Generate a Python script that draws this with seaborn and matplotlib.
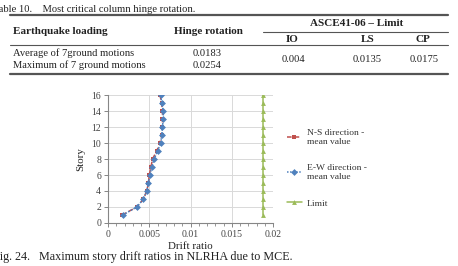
import matplotlib
matplotlib.use("Agg")
import matplotlib.pyplot as plt
from matplotlib.lines import Line2D
from matplotlib.ticker import MultipleLocator
import seaborn as sns

# table data
table_caption = "Table 10.    Most critical column hinge rotation."
row_names = ["Average of 7ground motions", "Maximum of 7 ground motions"]
hinge_rotation = ["0.0183", "0.0254"]
limit_names = ["IO", "LS", "CP"]
limit_values = ["0.004", "0.0135", "0.0175"]

# chart data
story = list(range(1, 17))
ns_drift = [0.0017, 0.0035, 0.0043, 0.0047, 0.0049, 0.0050, 0.0052, 0.0054,
            0.0059, 0.0063, 0.0065, 0.0066, 0.0066, 0.0066, 0.0065, 0.0063]
ew_drift = [0.0018, 0.0035, 0.0043, 0.0047, 0.0049, 0.0051, 0.0053, 0.0056,
            0.0060, 0.0064, 0.0065, 0.0066, 0.0067, 0.0067, 0.0065, 0.0064]
limit_drift = [0.01875] * 16
x_ticks = [0, 0.005, 0.01, 0.015, 0.02]
x_tick_labels = ["0", "0.005", "0.01", "0.015", "0.02"]
fig_caption = "Fig. 24.   Maximum story drift ratios in NLRHA due to MCE."

W, H = 458, 266
sns.set_style("white")
plt.rcParams["font.family"] = ["Liberation Serif", "DejaVu Serif"]

fig = plt.figure(figsize=(W / 100, H / 100), dpi=100)


def fx(px):
    return px / W


def fy(py):
    return 1 - py / H


def hline(x0, x1, y, lw):
    fig.add_artist(Line2D([fx(x0), fx(x1)], [fy(y), fy(y)], color="#555555", lw=lw))


txt = dict(fontsize=7.6, color="#222222")
bold = dict(fontsize=8.0, color="#222222", weight="bold")

# --- table ---
fig.text(fx(-7), fy(9), table_caption, va="center", ha="left", **txt)
hline(10, 448, 15, 1.6)
fig.text(fx(13), fy(32), "Earthquake loading", va="center", ha="left", **bold)
fig.text(fx(208), fy(32), "Hinge rotation", va="center", ha="center", **bold)
fig.text(fx(357), fy(24), "ASCE41-06 \u2013 Limit", va="center", ha="center", **bold)
hline(263, 448, 32, 0.8)
for name, xp in zip(limit_names, [292, 368, 423]):
    fig.text(fx(xp), fy(39), name, va="center", ha="center", **bold)
hline(10, 448, 45, 0.8)
for name, val, yp in zip(row_names, hinge_rotation, [53, 65]):
    fig.text(fx(13), fy(yp), name, va="center", ha="left", **txt)
    fig.text(fx(207), fy(yp), val, va="center", ha="center", **txt)
for val, xp in zip(limit_values, [293, 367, 424]):
    fig.text(fx(xp), fy(59), val, va="center", ha="center", **txt)
hline(10, 448, 74, 1.6)

# --- chart ---
ax = fig.add_axes([fx(108), fy(223), fx(273) - fx(108), fy(95) - fy(223)])
sns.lineplot(x=ns_drift, y=story, sort=False, estimator=None, ax=ax,
             color="#C0504D", linestyle=(0, (3, 2)), lw=1.1, marker="s",
             markersize=3.5, markeredgewidth=0, label="N-S direction -\nmean value")
sns.lineplot(x=ew_drift, y=story, sort=False, estimator=None, ax=ax,
             color="#4F81BD", linestyle=(0, (1, 1)), lw=1.1, marker="D",
             markersize=3.5, markeredgewidth=0, label="E-W direction -\nmean value")
sns.lineplot(x=limit_drift, y=story, sort=False, estimator=None, ax=ax,
             color="#9BBB59", lw=1.1, marker="^", markersize=3.5,
             markeredgewidth=0, label="Limit")

ax.set_xlim(0, 0.02)
ax.set_ylim(0, 16)
ax.set_xticks(x_ticks, x_tick_labels)
ax.xaxis.set_minor_locator(MultipleLocator(0.001))
ax.yaxis.set_major_locator(MultipleLocator(2))
ax.grid(True, which="major", color="#D9D9D9", lw=0.7)
for s in ["top", "right"]:
    ax.spines[s].set_visible(False)
for s in ["left", "bottom"]:
    ax.spines[s].set_color("#868686")
    ax.spines[s].set_linewidth(0.8)
ax.tick_params(which="major", direction="out", length=3, width=0.7, color="#868686",
               labelsize=7, labelcolor="#444444", pad=2, left=True, bottom=True)
ax.tick_params(which="minor", direction="out", length=2, width=0.6, color="#868686", bottom=True)
ax.set_xlabel("Drift ratio", fontsize=7.8, color="#222222", labelpad=2)
ax.set_ylabel("Story", fontsize=7.8, color="#222222", labelpad=4)

ax.legend(loc="upper left", bbox_to_anchor=(fx(283), fy(125)), bbox_transform=fig.transFigure,
          frameon=False, fontsize=6.8, handlelength=1.6, handletextpad=0.5,
          labelspacing=1.9, labelcolor="#333333", borderaxespad=0)

fig.text(fx(-7), fy(257), fig_caption, va="center", ha="left", fontsize=8.7, color="#222222")

fig.savefig("out.png", dpi=100)
